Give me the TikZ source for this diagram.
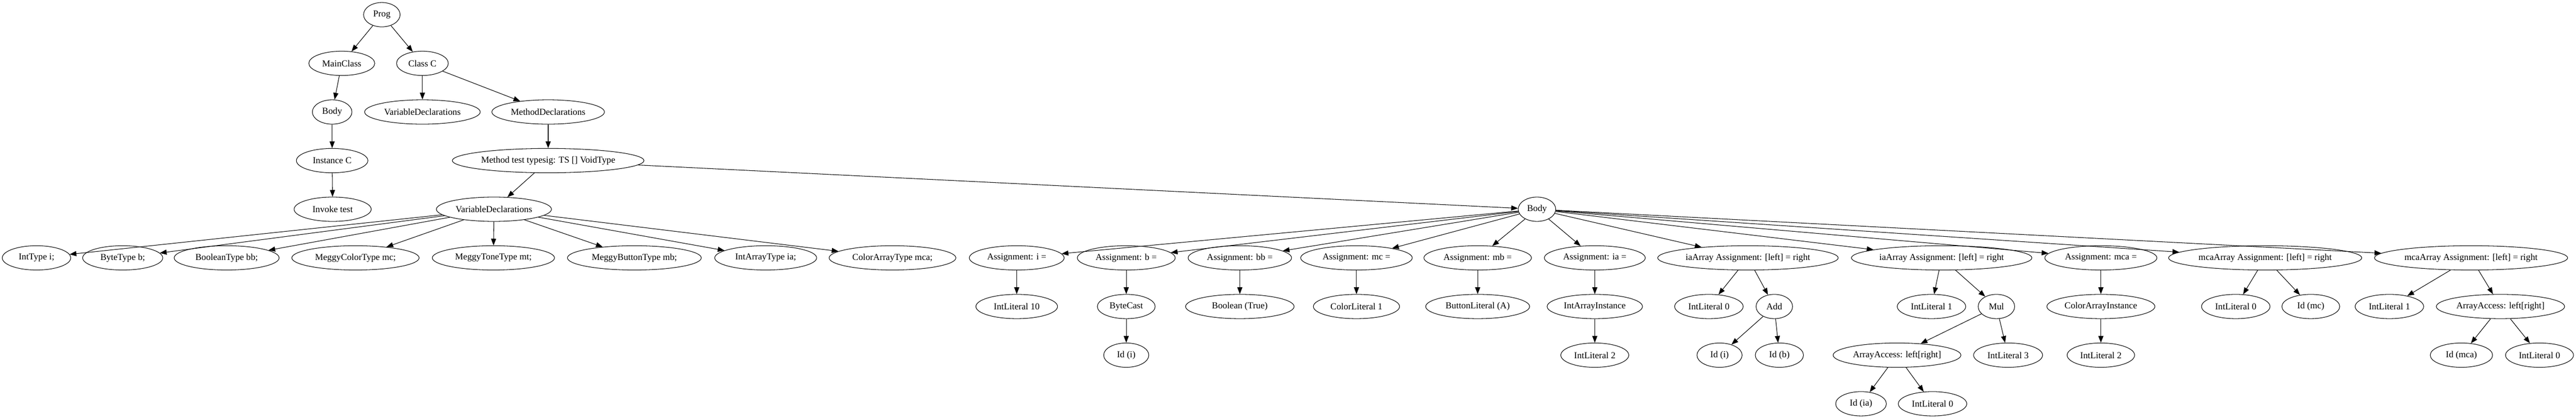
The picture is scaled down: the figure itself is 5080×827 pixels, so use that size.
\documentclass[tikz,border=0pt]{standalone}
\usepackage{fontspec}
\setmainfont{Liberation Serif}
\usetikzlibrary{shapes.geometric,arrows.meta}

\begin{document}
\begin{tikzpicture}[x=0.75pt,y=-0.75pt,
  ast/.style={draw,ellipse,line width=0.8pt,inner sep=0pt,minimum height=36pt,minimum width=#1*0.75pt,font=\fontsize{13.5}{16}\selectfont},
  link/.style={line width=0.8pt,-{Triangle[length=10pt,width=7.5pt]}}]
\useasboundingbox (0,0) rectangle (5080,827);
% Drawing nodes
% Rank 0
\node[ast=72] (prog) at (753,29) {Prog};
% Rank 1
\node[ast=130] (mainclass) at (674,125) {MainClass};
\node[ast=102] (classc) at (833,125) {Class C};
% Rank 2
\node[ast=78] (mbody) at (655,221) {Body};
\node[ast=228] (cvars) at (833,221) {VariableDeclarations};
\node[ast=222] (cmeths) at (1081,221) {MethodDeclarations};
% Rank 3
\node[ast=141] (newc) at (655,317) {Instance C};
\node[ast=378] (mtest) at (1081,317) {Method test typesig: TS [] VoidType};
% Rank 4
\node[ast=152] (invoke) at (656,413) {Invoke test};
\node[ast=227] (mvars) at (974,413) {VariableDeclarations};
\node[ast=74] (body) at (3031,413) {Body};
% Rank 5: declarations
\node[ast=135] (d1) at (72,509) {IntType i;};
\node[ast=158] (d2) at (242,509) {ByteType b;};
\node[ast=207] (d3) at (447,509) {BooleanType bb;};
\node[ast=251] (d4) at (701,509) {MeggyColorType mc;};
\node[ast=241] (d5) at (973,509) {MeggyToneType mt;};
\node[ast=264] (d6) at (1251,509) {MeggyButtonType mb;};
\node[ast=201] (d7) at (1510,509) {IntArrayType ia;};
\node[ast=250] (d8) at (1760,509) {ColorArrayType mca;};
% Rank 5: statements
\node[ast=187] (a1) at (2005,509) {Assignment: i =};
\node[ast=193] (a2) at (2221,509) {Assignment: b =};
\node[ast=204] (a3) at (2445,509) {Assignment: bb =};
\node[ast=220] (a4) at (2675,509) {Assignment: mc =};
\node[ast=212] (a5) at (2914,509) {Assignment: mb =};
\node[ast=199] (a6) at (3145,509) {Assignment: ia =};
\node[ast=356] (a7) at (3447,509) {iaArray Assignment: [left] = right};
\node[ast=356] (a8) at (3829,509) {iaArray Assignment: [left] = right};
\node[ast=221] (a9) at (4143,509) {Assignment: mca =};
\node[ast=381] (a10) at (4467,509) {mcaArray Assignment: [left] = right};
\node[ast=381] (a11) at (4873,509) {mcaArray Assignment: [left] = right};
% Rank 6
\node[ast=161] (lit10) at (2005,605) {IntLiteral 10};
\node[ast=114] (bcast) at (2221,605) {ByteCast};
\node[ast=214] (btrue) at (2445,605) {Boolean (True)};
\node[ast=170] (col1) at (2675,605) {ColorLiteral 1};
\node[ast=205] (butA) at (2914,605) {ButtonLiteral (A)};
\node[ast=188] (iainst) at (3145,605) {IntArrayInstance};
\node[ast=135] (lit0a) at (3370,605) {IntLiteral 0};
\node[ast=72] (add) at (3499,605) {Add};
\node[ast=135] (lit1a) at (3809,605) {IntLiteral 1};
\node[ast=72] (mul) at (3937,605) {Mul};
\node[ast=213] (cainst) at (4143,605) {ColorArrayInstance};
\node[ast=135] (lit0c) at (4409,605) {IntLiteral 0};
\node[ast=114] (idmc) at (4557,605) {Id (mc)};
\node[ast=135] (lit1b) at (4712,605) {IntLiteral 1};
\node[ast=253] (acc2) at (4931,605) {ArrayAccess: left[right]};
% Rank 7
\node[ast=89] (idi) at (2221,701) {Id (i)};
\node[ast=134] (lit2a) at (3145,701) {IntLiteral 2};
\node[ast=89] (idi2) at (3391,701) {Id (i)};
\node[ast=95] (idb) at (3509,701) {Id (b)};
\node[ast=252] (acc1) at (3741,701) {ArrayAccess: left[right]};
\node[ast=136] (lit3) at (3960,701) {IntLiteral 3};
\node[ast=133] (lit2b) at (4143,701) {IntLiteral 2};
\node[ast=123] (idmca) at (4854,701) {Id (mca)};
\node[ast=134] (lit0d) at (5008,701) {IntLiteral 0};
% Rank 8
\node[ast=100] (idia) at (3670,797) {Id (ia)};
\node[ast=135] (lit0b) at (3811,797) {IntLiteral 0};
% Done with nodes; drawing edges
\foreach \p/\c in {prog/mainclass,prog/classc,mainclass/mbody,mbody/newc,newc/invoke,
    classc/cvars,classc/cmeths,cmeths/mtest,mtest/mvars,mtest/body,
    mvars/d1,mvars/d2,mvars/d3,mvars/d4,mvars/d5,mvars/d6,mvars/d7,mvars/d8,
    body/a1,body/a2,body/a3,body/a4,body/a5,body/a6,body/a7,body/a8,body/a9,body/a10,body/a11,
    a1/lit10,a2/bcast,bcast/idi,a3/btrue,a4/col1,a5/butA,a6/iainst,iainst/lit2a,
    a7/lit0a,a7/add,add/idi2,add/idb,a8/lit1a,a8/mul,mul/acc1,mul/lit3,acc1/idia,acc1/lit0b,
    a9/cainst,cainst/lit2b,a10/lit0c,a10/idmc,a11/lit1b,a11/acc2,acc2/idmca,acc2/lit0d}
  \draw[link] (\p) -- (\c);
% Done with edges
\end{tikzpicture}
\end{document}
